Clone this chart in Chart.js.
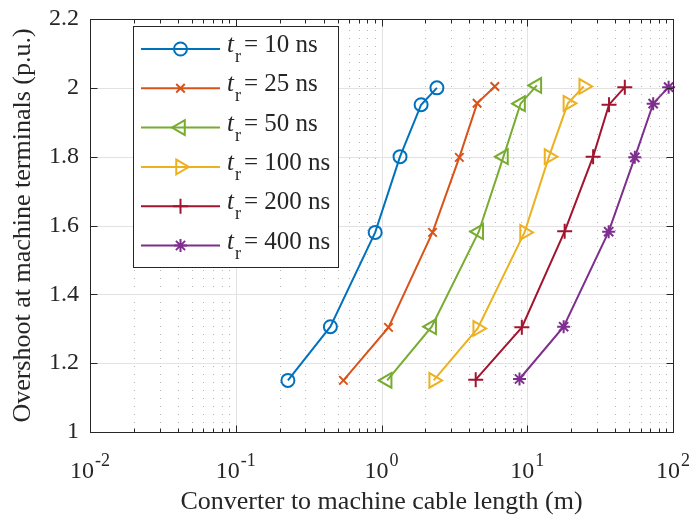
<!DOCTYPE html>
<html>
<head>
<meta charset="utf-8">
<script src="https://cdn.jsdelivr.net/npm/chart.js@4.4.0/dist/chart.umd.min.js"></script>
<style>
  html, body { margin: 0; padding: 0; background: #fff; }
  #chart { display: block; }
</style>
</head>
<body>
<canvas id="chart" width="692" height="518"></canvas>
<script>
// rise times (ns) and the curves
const riseTimes = [10, 25, 50, 100, 200, 400];

const len10 = [0.228, 0.446, 0.905, 1.34, 1.87, 2.40];
const os10 = [1.150, 1.306, 1.580, 1.800, 1.951, 2.000];
const len25 = [0.548, 1.117, 2.24, 3.42, 4.53, 5.99];
const os25 = [1.150, 1.304, 1.580, 1.798, 1.955, 2.004];
const len50 = [1.094, 2.21, 4.65, 6.87, 9.0, 11.64];
const os50 = [1.150, 1.306, 1.582, 1.800, 1.954, 2.007];
const len100 = [2.28, 4.57, 9.58, 14.1, 19.0, 24.4];
const os100 = [1.150, 1.301, 1.580, 1.800, 1.955, 2.004];
const len200 = [4.43, 9.18, 18.06, 28.3, 36.4, 46.7];
const os200 = [1.152, 1.304, 1.583, 1.800, 1.951, 2.002];
const len400 = [8.85, 17.77, 36.2, 54.7, 73.1, 93.3];
const os400 = [1.154, 1.306, 1.582, 1.798, 1.954, 2.002];

const xTickValues = [0.01, 0.1, 1, 10, 100];
const xTickExps = ['-2', '-1', '0', '1', '2'];
const yTicks = [1, 1.2, 1.4, 1.6, 1.8, 2, 2.2];

const xTitle = 'Converter to machine cable length (m)';
const yTitle = 'Overshoot at machine terminals (p.u.)';

const SERIF = "'Liberation Serif', 'Times New Roman', serif";
const INK = '#262626';

const styles = [
  { color: '#0072BD', pointStyle: 'circle', rotation: 0, radius: 6.5 },
  { color: '#D95319', pointStyle: 'crossRot', rotation: 0, radius: 6 },
  { color: '#77AC30', pointStyle: 'triangle', rotation: -90, radius: 8.5 },
  { color: '#EDB120', pointStyle: 'triangle', rotation: 90, radius: 8.5 },
  { color: '#A2142F', pointStyle: 'cross', rotation: 0, radius: 7.5 },
  { color: '#7E2F8E', pointStyle: 'star', rotation: 0, radius: 6.5 },
];

const lengths = [len10, len25, len50, len100, len200, len400];
const overshoots = [os10, os25, os50, os100, os200, os400];

function toPoints(xs, ys) {
  return xs.map((x, i) => ({ x, y: ys[i] }));
}

const datasets = riseTimes.map((t, i) => ({
  label: `t_r = ${t} ns`,
  data: toPoints(lengths[i], overshoots[i]),
  borderColor: styles[i].color,
  borderWidth: 2,
  pointStyle: styles[i].pointStyle,
  pointRotation: styles[i].rotation,
  pointRadius: styles[i].radius,
  pointBorderWidth: 2,
  pointBorderColor: styles[i].color,
  pointBackgroundColor: 'rgba(0,0,0,0)',
  tension: 0,
  clip: false,
}));

function minorValues() {
  const out = [];
  for (let d = 0; d < xTickValues.length - 1; d += 1) {
    for (let k = 2; k <= 9; k += 1) out.push(xTickValues[d] * k);
  }
  return out;
}

const framePlugin = {
  id: 'frame',
  beforeDatasetsDraw(chart) {
    const { ctx, chartArea: a, scales: { x, y } } = chart;
    ctx.save();
    ctx.lineWidth = 1;
    // dotted minor grid
    ctx.strokeStyle = '#b4b4b4';
    ctx.setLineDash([1, 7]);
    minorValues().forEach((v) => {
      const px = Math.round(x.getPixelForValue(v)) + 0.5;
      ctx.beginPath();
      ctx.moveTo(px, a.top + 3);
      ctx.lineTo(px, a.bottom);
      ctx.stroke();
    });
    ctx.setLineDash([]);
    ctx.strokeStyle = '#e2e2e2';
    xTickValues.forEach((v) => {
      const px = Math.round(x.getPixelForValue(v)) + 0.5;
      ctx.beginPath();
      ctx.moveTo(px, a.top);
      ctx.lineTo(px, a.bottom);
      ctx.stroke();
    });
    yTicks.forEach((v) => {
      const py = Math.round(y.getPixelForValue(v)) + 0.5;
      ctx.beginPath();
      ctx.moveTo(a.left, py);
      ctx.lineTo(a.right, py);
      ctx.stroke();
    });
    ctx.restore();
  },
  afterDatasetsDraw(chart) {
    const { ctx, chartArea: a, scales: { x, y } } = chart;
    const L = Math.round(a.left) + 0.5;
    const R = Math.round(a.right) + 0.5;
    const T = Math.round(a.top) + 0.5;
    const B = Math.round(a.bottom) + 0.5;
    ctx.save();
    ctx.strokeStyle = INK;
    ctx.lineWidth = 1;
    ctx.strokeRect(L, T, R - L, B - T);
    ctx.beginPath();
    const tickX = (v, len) => {
      const px = Math.round(x.getPixelForValue(v)) + 0.5;
      ctx.moveTo(px, B); ctx.lineTo(px, B - len);
      ctx.moveTo(px, T); ctx.lineTo(px, T + len);
    };
    xTickValues.forEach((v) => tickX(v, 7));
    minorValues().forEach((v) => tickX(v, 4));
    yTicks.forEach((v) => {
      const py = Math.round(y.getPixelForValue(v)) + 0.5;
      ctx.moveTo(L, py); ctx.lineTo(L + 7, py);
      ctx.moveTo(R, py); ctx.lineTo(R - 7, py);
    });
    ctx.stroke();
    ctx.restore();
  },
  afterDraw(chart) {
    const { ctx, chartArea: a, scales: { x } } = chart;
    ctx.save();
    ctx.fillStyle = INK;
    ctx.textBaseline = 'alphabetic';
    ctx.textAlign = 'left';

    // x tick labels 10^n
    xTickValues.forEach((v, i) => {
      const px = x.getPixelForValue(v);
      ctx.font = `24px ${SERIF}`;
      const bw = ctx.measureText('10').width;
      ctx.font = `18px ${SERIF}`;
      const sw = ctx.measureText(xTickExps[i]).width;
      const left = px - (bw + 1 + sw) / 2;
      ctx.font = `24px ${SERIF}`;
      ctx.fillText('10', left, 478);
      ctx.font = `18px ${SERIF}`;
      ctx.fillText(xTickExps[i], left + bw + 1, 466);
    });

    // axis titles
    ctx.font = `26px ${SERIF}`;
    ctx.textAlign = 'center';
    ctx.fillText(xTitle, (a.left + a.right) / 2, 509);
    ctx.translate(30, (a.top + a.bottom) / 2);
    ctx.rotate(-Math.PI / 2);
    ctx.fillText(yTitle, 0, 0);
    ctx.setTransform(1, 0, 0, 1, 0, 0);

    // legend
    ctx.fillStyle = '#fff';
    ctx.fillRect(133.5, 26.5, 205, 241);
    ctx.strokeStyle = INK;
    ctx.lineWidth = 1;
    ctx.strokeRect(133.5, 26.5, 205, 241);
    chart.data.datasets.forEach((ds, i) => {
      const cy = 49 + i * 39.3;
      ctx.strokeStyle = ds.borderColor;
      ctx.lineWidth = 2;
      ctx.beginPath();
      ctx.moveTo(141, cy);
      ctx.lineTo(220, cy);
      ctx.stroke();
      ctx.fillStyle = 'rgba(0,0,0,0)';
      Chart.helpers.drawPoint(ctx, {
        pointStyle: ds.pointStyle,
        rotation: ds.pointRotation,
        radius: ds.pointRadius,
        borderWidth: 2,
      }, 180.5, cy);
      ctx.fillStyle = INK;
      ctx.textAlign = 'left';
      ctx.font = `italic 25px ${SERIF}`;
      ctx.fillText('t', 227, cy + 3);
      ctx.font = `18px ${SERIF}`;
      ctx.fillText('r', 235, cy + 13);
      ctx.font = `25px ${SERIF}`;
      ctx.fillText(`= ${riseTimes[i]} ns`, 244, cy + 3);
    });
    ctx.restore();
  },
};

new Chart(document.getElementById('chart'), {
  type: 'line',
  data: { datasets },
  options: {
    responsive: false,
    animation: false,
    devicePixelRatio: 1,
    layout: { padding: { top: 19, right: 19, left: 0, bottom: 0 } },
    scales: {
      x: {
        type: 'logarithmic',
        min: 0.01,
        max: 100,
        grid: { display: false },
        border: { display: false },
        ticks: { display: false },
        afterFit(scale) {
          scale.height = 86;
          scale.paddingLeft = 0;
          scale.paddingRight = 0;
        },
      },
      y: {
        type: 'linear',
        min: 1,
        max: 2.2,
        grid: { display: false, drawTicks: false },
        border: { display: false },
        afterBuildTicks(scale) { scale.ticks = yTicks.map((v) => ({ value: v })); },
        ticks: {
          padding: 11,
          color: INK,
          font: { family: SERIF, size: 24 },
          callback: (v) => String(Math.round(v * 10) / 10),
        },
        afterFit(scale) {
          scale.width = 90;
          scale.paddingTop = 0;
          scale.paddingBottom = 0;
        },
      },
    },
    plugins: {
      legend: { display: false },
      tooltip: { enabled: false },
    },
  },
  plugins: [framePlugin],
});
</script>
</body>
</html>
